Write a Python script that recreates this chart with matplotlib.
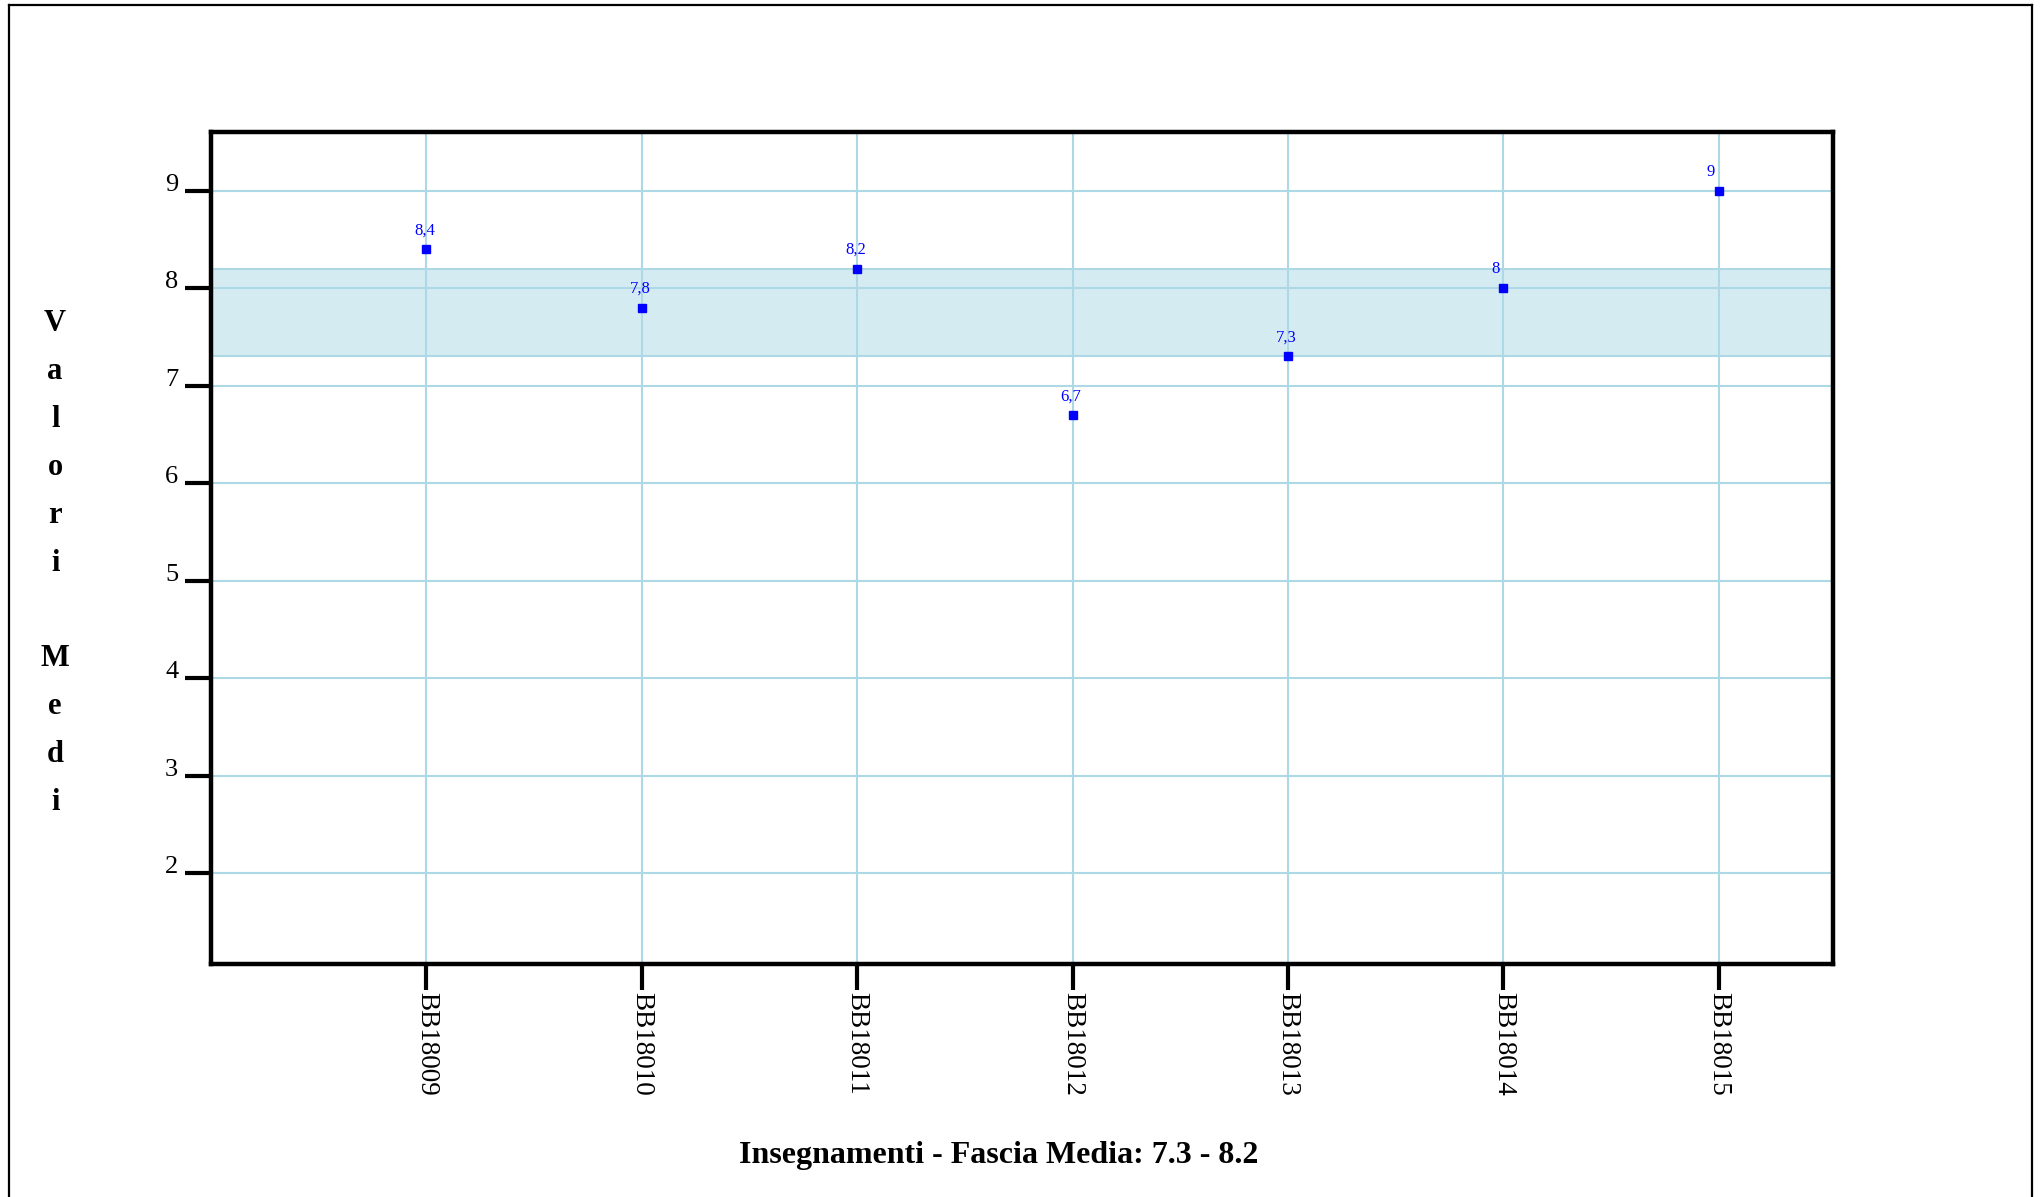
import matplotlib.pyplot as plt
from matplotlib.lines import Line2D

codes = ['BB18009', 'BB18010', 'BB18011', 'BB18012', 'BB18013', 'BB18014', 'BB18015']
medie = [8.4, 7.8, 8.2, 6.7, 7.3, 8.0, 9.0]
etichette = ['8,4', '7,8', '8,2', '6,7', '7,3', '8', '9']
fascia_bassa = 7.3
fascia_alta = 8.2
y_ticks = [2, 3, 4, 5, 6, 7, 8, 9]

plt.rcParams['font.family'] = ['Liberation Serif', 'DejaVu Serif']

fig = plt.figure(figsize=(20.43, 11.97), dpi=100)
ax = fig.add_axes([0.1033, 0.1947, 0.7939, 0.695])

xs = list(range(1, len(codes) + 1))

ax.axhspan(fascia_bassa, fascia_alta, facecolor='#add8e6', alpha=0.5,
           edgecolor='none', zorder=1)
for y in (fascia_bassa, fascia_alta):
    ax.axhline(y, color='#add8e6', lw=1.5, zorder=2)

ax.set_xticks(xs)
ax.set_xticklabels(codes, rotation=270, fontsize=19.5)
ax.set_yticks(y_ticks)
ax.set_yticklabels([str(v) for v in y_ticks], fontsize=19)
plt.setp(ax.get_yticklabels(), va='baseline')

ax.grid(True, color='#add8e6', lw=1.5, zorder=2)
ax.set_axisbelow(True)

ax.plot(xs, medie, linestyle='none', marker='s', markersize=6.3,
        color='blue', zorder=4)
for x, y, t in zip(xs, medie, etichette):
    ax.annotate(t, (x, y), xytext=(-8.6, 10.5), textcoords='offset points',
                ha='left', va='baseline', color='blue', fontsize=12)

ax.set_xlim(0, 7.53)
ax.set_ylim(1.07, 9.6)

for s in ax.spines.values():
    s.set_linewidth(3.2)
    s.set_capstyle('projecting')
ax.tick_params(axis='both', length=18.7, width=3, color='black', direction='out')
ax.tick_params(axis='x', pad=1.5)
ax.tick_params(axis='y', pad=5)

fig.text(0.027, 0.5296, 'V\na\nl\no\nr\ni\n \nM\ne\nd\ni', fontsize=22,
         fontweight='bold', ha='center', va='center', linespacing=1.86)
fig.text(0.489, 1 - 1155 / 1197, 'Insegnamenti - Fascia Media: 7.3 - 8.2',
         fontsize=23, fontweight='bold', ha='center', va='center')

# cornice esterna
fig.add_artist(Line2D([9 / 2043, 9 / 2043], [0, 1 - 5 / 1197], transform=fig.transFigure, color='black', lw=1.6))
fig.add_artist(Line2D([9 / 2043, 2032 / 2043], [1 - 5 / 1197, 1 - 5 / 1197], transform=fig.transFigure, color='black', lw=1.6))
fig.add_artist(Line2D([2032 / 2043, 2032 / 2043], [0, 1 - 5 / 1197], transform=fig.transFigure, color='black', lw=1.6))

fig.savefig('out.png', dpi=100)
